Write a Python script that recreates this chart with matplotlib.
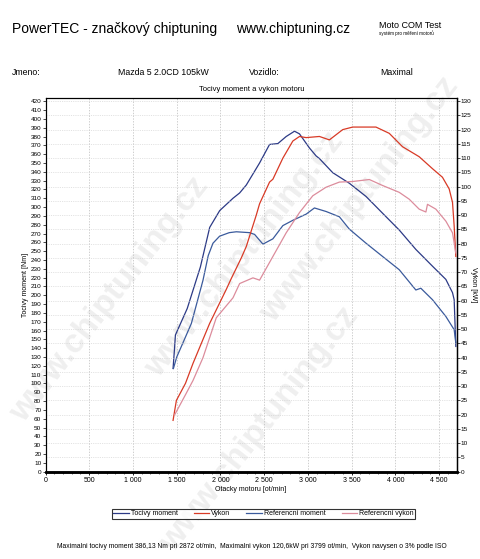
import numpy as np
import matplotlib.pyplot as plt
from matplotlib.ticker import MultipleLocator, FuncFormatter

plt.rcParams['font.family'] = ['Liberation Sans', 'DejaVu Sans']

# Tocivy moment [Nm]
rpm_m = [1458, 1475, 1485, 1620, 1770, 1877, 1991, 2067, 2143, 2219, 2295, 2447, 2561, 2656,
         2751, 2846, 2903, 3017, 3093, 3131, 3283, 3473, 3664, 3853, 4043, 4233, 4423, 4576,
         4652, 4671, 4690]
moment = [117, 140, 155, 185, 232, 277, 296, 303, 310, 316, 325, 350, 371, 372,
          380, 386, 383, 367, 358, 355, 339, 327, 312, 293, 274, 252, 233, 218,
          203, 195, 142]

# Referencni moment [Nm]
rpm_rm = [1462, 1500, 1553, 1667, 1800, 1860, 1914, 1990, 2100, 2181, 2333, 2390, 2485, 2599,
          2713, 2827, 2979, 3074, 3207, 3359, 3473, 3664, 3853, 4043, 4233, 4290, 4423, 4576,
          4671, 4690]
ref_moment = [117, 130, 142, 168, 217, 245, 259, 267, 271, 272, 271, 269, 258, 264,
              279, 285, 292, 299, 295, 289, 275, 259, 244, 229, 206, 208, 195, 176,
              161, 146]

# Vykon [kW]
rpm_p = [1458, 1496, 1600, 1686, 1876, 2067, 2124, 2238, 2295, 2409, 2447, 2561, 2599, 2713,
         2827, 2903, 2979, 3131, 3245, 3397, 3511, 3777, 3929, 4081, 4271, 4423, 4537, 4614,
         4652, 4671, 4690]
vykon = [18, 25, 31, 38, 52, 64, 67.8, 75, 79, 90, 94, 101.6, 102.6, 110,
         116, 117.6, 117.2, 117.6, 116.4, 120, 120.9, 120.9, 118.7, 114, 110.5, 106.3, 103.3, 99.2,
         94.5, 86.2, 75.5]

# Referencni vykon [kW]
rpm_rp = [1477, 1600, 1686, 1800, 1952, 2143, 2219, 2371, 2447, 2599, 2751, 2903, 3055, 3207,
          3359, 3511, 3701, 3853, 4043, 4157, 4271, 4348, 4366, 4462, 4576, 4652, 4690]
ref_vykon = [20, 27, 32, 40, 54, 61, 66, 68, 67.2, 75.5, 83.8, 90.9, 96.8, 99.8,
             101.6, 101.8, 102.5, 100.4, 98, 95.6, 92.1, 91.1, 93.8, 92.1, 87.9, 83.8, 76.7]

W, H = 480, 559
fig = plt.figure(figsize=(W / 100, H / 100), dpi=100)

# watermark behind the chart
for (wx, wy) in [(110, 300), (245, 255), (360, 200), (260, 430)]:
    fig.text(wx / W, 1 - wy / H, 'www.chiptuning.cz', rotation=52, fontsize=24,
             fontweight='bold', color='#efefef', ha='center', va='center', zorder=-1)

ax = fig.add_axes([45.5 / W, 1 - 471.7 / H, (456.7 - 45.5) / W, (471.7 - 97.7) / H])
ax.set_facecolor('none')
ax2 = ax.twinx()

ax.plot(rpm_m, moment, color='#2c3a86', lw=0.9, label='Tocivy moment', zorder=3)
ax2.plot(rpm_p, vykon, color='#d83a26', lw=0.9, label='Vykon', zorder=3)
ax.plot(rpm_rm, ref_moment, color='#3a5a9c', lw=0.9, label='Referencni moment', zorder=3)
ax2.plot(rpm_rp, ref_vykon, color='#dc8c9c', lw=0.9, label='Referencni vykon', zorder=3)

ax.set_xlim(0, 4700)
ax.set_ylim(0, 424)
ax2.set_ylim(0, 131.2)

ax.xaxis.set_major_locator(MultipleLocator(500))
ax.xaxis.set_minor_locator(MultipleLocator(100))
ax.xaxis.set_major_formatter(FuncFormatter(lambda v, p: '{:,}'.format(int(v)).replace(',', ' ')))
ax.yaxis.set_major_locator(MultipleLocator(10))
ax2.yaxis.set_major_locator(MultipleLocator(5))

ax.tick_params(axis='x', labelsize=5, length=2, width=0.6, pad=2)
ax.tick_params(axis='x', which='minor', length=1.2, width=0.4)
ax.tick_params(axis='y', labelsize=4.6, length=2, width=0.5, pad=1)
ax2.tick_params(axis='y', labelsize=4.6, length=2, width=0.5, pad=1)

ax.grid(axis='x', color='#bbbbbb', ls=(0, (2, 2)), lw=0.5)
ax2.grid(axis='y', color='#cccccc', ls=(0, (2, 2)), lw=0.4)
ax.set_axisbelow(True)

for s in ax.spines.values():
    s.set_linewidth(0.8)
ax.spines['bottom'].set_linewidth(1.8)
ax2.spines['bottom'].set_linewidth(1.8)
ax2.spines['right'].set_linewidth(1.0)

ax.set_xlabel('Otacky motoru [ot/min]', fontsize=5, labelpad=1)
ax.set_ylabel('Tocivy moment [Nm]', fontsize=5, labelpad=1)
ax2.set_ylabel('Vykon [kW]', fontsize=5, rotation=-90, labelpad=4)

# header texts
fig.text(12 / W, 1 - 29 / H, 'PowerTEC - značkový chiptuning', fontsize=10, va='center')
fig.text(236 / W, 1 - 29 / H, 'www.chiptuning.cz', fontsize=10, va='center')
fig.text(379 / W, 1 - 25 / H, 'Moto COM Test', fontsize=6.5, va='center')
fig.text(379 / W, 1 - 33 / H, 'systém pro měření motorů', fontsize=3.3, va='center')
fig.text(12 / W, 1 - 72.5 / H, 'Jmeno:', fontsize=6.3, va='center')
fig.text(118 / W, 1 - 72.5 / H, 'Mazda 5 2.0CD 105kW', fontsize=6.3, va='center')
fig.text(249 / W, 1 - 72.5 / H, 'Vozidlo:', fontsize=6.3, va='center')
fig.text(380 / W, 1 - 72.5 / H, 'Maximal', fontsize=6.3, va='center')
fig.text(252 / W, 1 - 90 / H, 'Tocivy moment a vykon motoru', fontsize=5.5, ha='center', va='center')

h1, l1 = ax.get_legend_handles_labels()
h2, l2 = ax2.get_legend_handles_labels()
handles = [h1[0], h2[0], h1[1], h2[1]]
labels = [l1[0], l2[0], l1[1], l2[1]]
leg = fig.legend(handles, labels, ncol=4, mode='expand', fontsize=5,
                 bbox_to_anchor=(112 / W, 1 - 518.5 / H, (415 - 112) / W, 11.5 / H),
                 loc='lower left', frameon=True, fancybox=False, borderpad=0.2,
                 handlelength=2.2, handletextpad=0.3, borderaxespad=0)
leg.get_frame().set_edgecolor('black')
leg.get_frame().set_linewidth(0.8)

fig.text(252 / W, 1 - 546 / H,
         'Maximalni tocivy moment 386,13 Nm pri 2872 ot/min,  Maximalni vykon 120,6kW pri 3799 ot/min,  '
         'Vykon navysen o 3% podle ISO', fontsize=4.9, ha='center', va='center')

fig.savefig('out.png', dpi=100)
